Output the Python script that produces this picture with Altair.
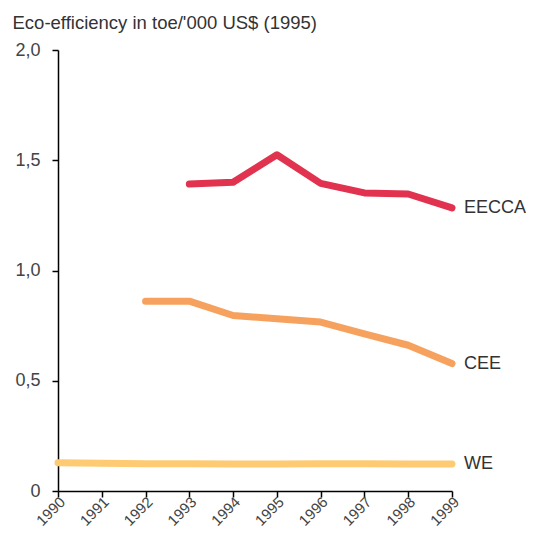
import altair as alt
import pandas as pd

years = [1990, 1991, 1992, 1993, 1994, 1995, 1996, 1997, 1998, 1999]
eecca_years = [1993, 1994, 1995, 1996, 1997, 1998, 1999]
eecca = [1.392, 1.400, 1.525, 1.395, 1.352, 1.347, 1.284]
cee_years = [1992, 1993, 1994, 1995, 1996, 1997, 1998, 1999]
cee = [0.861, 0.861, 0.796, 0.781, 0.766, 0.713, 0.661, 0.578]
we_years = years
we = [0.128, 0.126, 0.124, 0.124, 0.123, 0.123, 0.124, 0.124, 0.123, 0.122]
series = ["EECCA", "CEE", "WE"]
colors = ["#E1334F", "#F6A25E", "#FECB73"]
y_ticks = [0, 0.5, 1.0, 1.5, 2.0]
title_text = "Eco-efficiency in toe/'000 US$ (1995)"

rows = []
for name, ys, vs in [("EECCA", eecca_years, eecca), ("CEE", cee_years, cee), ("WE", we_years, we)]:
    for yr, v in zip(ys, vs):
        rows.append({"year": yr, "value": v, "series": name})
df = pd.DataFrame(rows)
last = df.groupby("series", as_index=False).last()

font = "Liberation Sans"

x = alt.X("year:Q", scale=alt.Scale(domain=[1990, 1999], nice=False, zero=False),
          axis=alt.Axis(values=years, format="d", title=None, labelAngle=315,
                        labelAlign="right", labelBaseline="middle", labelPadding=2,
                        labelOffset=4,
                        labelFontSize=15, labelFont=font, labelColor="#444",
                        domainColor="black", domainWidth=1.5, tickColor="black",
                        tickWidth=1.5, tickSize=6, grid=False, labelOverlap=False))
y = alt.Y("value:Q", scale=alt.Scale(domain=[0, 2], nice=False),
          axis=alt.Axis(values=y_ticks, title=title_text, titleAngle=0, titleAlign="left",
                        titleBaseline="alphabetic", titleX=-46, titleY=-22,
                        titleFontSize=18.5, titleFont=font, titleFontWeight="normal",
                        titleColor="#333",
                        labelExpr="datum.value == 0 ? '0' : replace(format(datum.value, '.1f'), '.', ',')",
                        labelFontSize=18, labelFont=font, labelColor="#444", labelPadding=12,
                        domainColor="black", domainWidth=1.5, tickColor="black",
                        tickWidth=1.5, tickSize=6, grid=False))

color = alt.Color("series:N", scale=alt.Scale(domain=series, range=colors), legend=None)

lines = alt.Chart(df).mark_line(strokeWidth=7, strokeCap="round", strokeJoin="round").encode(
    x=x, y=y, color=color, detail="series:N")

labels = alt.Chart(last).mark_text(align="left", baseline="middle", dx=12, fontSize=18,
                                   font=font, color="#333").encode(
    x="year:Q", y="value:Q", text="series:N")

chart = alt.layer(lines, labels).properties(
    width=394, height=441,
    autosize=alt.AutoSizeParams(type="none"),
    padding={"left": 50, "top": 42, "right": 74, "bottom": 38},
).configure_view(stroke=None)

chart.save("out.html", embed_options={"renderer": "svg", "actions": False})
